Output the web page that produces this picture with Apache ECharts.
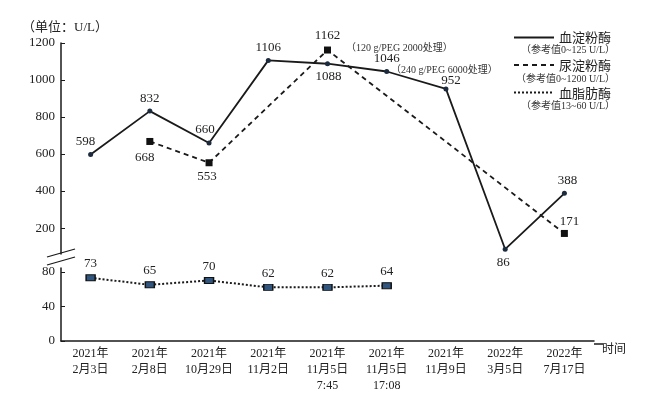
<!DOCTYPE html>
<html>
<head>
<meta charset="utf-8">
<script src="https://cdn.jsdelivr.net/npm/echarts@6/dist/echarts.min.js"></script>
<style>html,body{margin:0;padding:0;background:#fff}#c{width:650px;height:394px}</style>
</head>
<body>
<div id="c"></div>
<script>
const categories = ['2021年\n2月3日','2021年\n2月8日','2021年\n10月29日','2021年\n11月2日','2021年\n11月5日\n7:45','2021年\n11月5日\n17:08','2021年\n11月9日','2022年\n3月5日','2022年\n7月17日'];
const seriesNames = ['血淀粉酶','尿淀粉酶','血脂肪酶'];
const refRanges = ['（参考值0~125 U/L）','（参考值0~1200 U/L）','（参考值13~60 U/L）'];
const bloodAmylase = [598,832,660,1106,1088,1046,952,86,388];
const urineAmylase = [null,668,553,null,1162,null,null,null,171];
const bloodLipase = [73,65,70,62,62,64,null,null,null];
const upperTicks = [200,400,600,800,1000,1200];
const lowerTicks = [0,40,80];
const notes = ['（120 g/PEG 2000处理）','（240 g/PEG 6000处理）'];

// label placement (style only)
const bloodLabel = [['top',[-5,0]],['top',[0,0]],['top',[-4,0]],['top',[0,0]],['bottom',[1,0]],['top',[0,0]],['top',[5,5]],['bottom',[-2,0]],['top',[3,0]]];
const urineLabel = [null,['bottom',[-5,2]],['bottom',[-2,0]],null,['top',[0,0]],null,null,null,['top',[5,2]]];

const FONT = '"Liberation Serif","Noto Sans CJK SC",serif';
const C = '#1a1a1a';

function withLabels(vals, pos){
  return vals.map((v,i)=> v==null ? null : {value:v, label:{show:true, position:pos[i][0], offset:pos[i][1]}});
}

const chart = echarts.init(document.getElementById('c'), null, {renderer:'canvas'});
const labelStyle = {show:true, fontFamily:FONT, fontSize:13, color:'#222', distance:4};
const plain = v => String(v);

const option = {
  animation:false,
  textStyle:{fontFamily:FONT},
  grid:[
    {left:61, top:43, width:533, height:211},
    {left:61, top:268, width:533, height:76}
  ],
  xAxis:[
    {type:'category', gridIndex:0, data:categories, boundaryGap:true, show:false},
    {type:'category', gridIndex:1, data:categories, boundaryGap:true,
     axisLine:{lineStyle:{color:C, width:1.5}}, axisTick:{show:false},
     axisLabel:{fontFamily:FONT, fontSize:12, color:'#222', lineHeight:16, margin:5, interval:0},
     name:'时间', nameLocation:'end', nameGap:8,
     nameTextStyle:{fontFamily:FONT, fontSize:12, color:'#222', verticalAlign:'top', padding:[3,0,0,0]}}
  ],
  yAxis:[
    {type:'value', gridIndex:0, min:60, max:1200,
     axisLine:{show:true, lineStyle:{color:C, width:1.5}},
     axisTick:{show:true, inside:true, length:4, customValues:upperTicks, lineStyle:{color:C}},
     axisLabel:{fontFamily:FONT, fontSize:13, color:'#222', margin:6, customValues:upperTicks, formatter:plain},
     splitLine:{show:false},
     name:'（单位：U/L）', nameLocation:'end', nameGap:9,
     nameTextStyle:{fontFamily:FONT, fontSize:13, color:'#222', align:'center', padding:[0,0,0,8]}},
    {type:'value', gridIndex:1, min:0, max:84.4,
     axisLine:{show:true, lineStyle:{color:C, width:1.5}},
     axisTick:{show:true, inside:true, length:4, customValues:lowerTicks, lineStyle:{color:C}},
     axisLabel:{fontFamily:FONT, fontSize:13, color:'#222', margin:6, customValues:lowerTicks, formatter:plain},
     splitLine:{show:false}}
  ],
  legend:{
    orient:'vertical', left:513, top:31, padding:0, itemWidth:40, itemHeight:14, itemGap:14.5,
    textStyle:{fontFamily:'"Noto Sans CJK SC",serif', fontSize:13, color:'#222'},
    itemStyle:{opacity:0},
    data:seriesNames
  },
  series:[
    {name:seriesNames[0], type:'line', xAxisIndex:0, yAxisIndex:0,
     data:withLabels(bloodAmylase, bloodLabel),
     symbol:'circle', symbolSize:5,
     itemStyle:{color:'#1c2b3d'},
     lineStyle:{color:C, width:1.8, type:'solid'},
     label:labelStyle},
    {name:seriesNames[1], type:'line', xAxisIndex:0, yAxisIndex:0, connectNulls:true,
     data:withLabels(urineAmylase, urineLabel),
     symbol:'rect', symbolSize:7,
     itemStyle:{color:'#111'},
     lineStyle:{color:C, width:1.8, type:[5,4]},
     label:labelStyle},
    {name:seriesNames[2], type:'line', xAxisIndex:1, yAxisIndex:1,
     data:bloodLipase,
     symbol:'rect', symbolSize:[9,6],
     itemStyle:{color:'#30567f', borderColor:'#111', borderWidth:1.2},
     lineStyle:{color:C, width:2, type:[2,2]},
     label:Object.assign({}, labelStyle, {position:'top'})}
  ],
  graphic:[
    {type:'line', shape:{x1:47,y1:257,x2:75,y2:249}, style:{stroke:C, lineWidth:1.2}},
    {type:'line', shape:{x1:47,y1:265,x2:75,y2:257}, style:{stroke:C, lineWidth:1.2}},
    {type:'line', shape:{x1:594,y1:344,x2:603,y2:344}, style:{stroke:C, lineWidth:1.5}},
    {type:'text', x:615, y:50, style:{text:refRanges[0], align:'right', verticalAlign:'middle', font:'10px "Liberation Serif","Noto Sans CJK SC"', fill:'#333'}},
    {type:'text', x:615, y:79, style:{text:refRanges[1], align:'right', verticalAlign:'middle', font:'10px "Liberation Serif","Noto Sans CJK SC"', fill:'#333'}},
    {type:'text', x:615, y:106, style:{text:refRanges[2], align:'right', verticalAlign:'middle', font:'10px "Liberation Serif","Noto Sans CJK SC"', fill:'#333'}},
    {type:'text', x:346, y:48, style:{text:notes[0], align:'left', verticalAlign:'middle', font:'10px "Liberation Serif","Noto Sans CJK SC"', fill:'#333'}},
    {type:'text', x:391, y:70, style:{text:notes[1], align:'left', verticalAlign:'middle', font:'10px "Liberation Serif","Noto Sans CJK SC"', fill:'#333'}}
  ]
};
chart.setOption(option);
</script>
</body>
</html>
